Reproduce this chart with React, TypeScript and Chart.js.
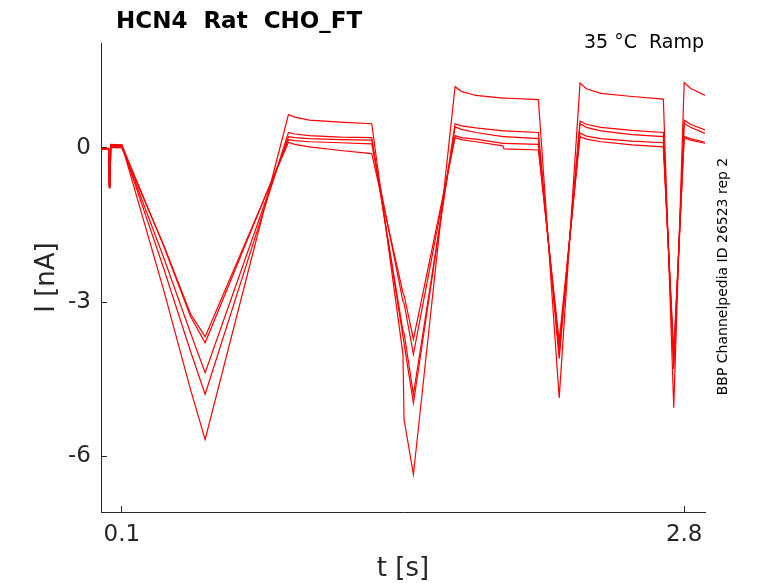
import React, { useRef, useEffect } from "react";
import Chart from "chart.js/auto";

// time knots (s) shared by all sweeps
const timeS = [
  0, 0.037, 0.04, 0.043, 0.047, 0.1, 0.3, 0.43, 0.5, 0.81, 0.9, 0.93, 1.0, 1.15, 1.3,
  1.45, 1.455, 1.5, 1.7, 1.73, 1.8, 1.93, 1.935, 2.1, 2.2, 2.3, 2.33, 2.4, 2.55, 2.7,
  2.75, 2.8, 2.83, 2.9,
];

// current (nA), one array per sweep
const sweep1 = [
  -0.02, -0.02, -0.74, -0.7, 0.06, 0.06, -2.75, -4.7, -5.67, -0.77, 0.65, 0.6, 0.54, 0.5, 0.47,
  -4.02, -5.28, -6.35, 1.19, 1.1, 1.02, 0.97, 0.97, 0.94, -4.86, 1.26, 1.15, 1.06, 1.0, 0.95,
  -5.05, 1.27, 1.16, 1.02,
];
const sweep2 = [
  -0.01, -0.01, -0.76, -0.72, 0.04, 0.05, -2.33, -3.96, -4.79, -0.85, 0.3, 0.27, 0.24, 0.21, 0.2,
  -3.67, -3.8, -4.96, 0.47, 0.43, 0.39, 0.33, 0.33, 0.3, -4.1, 0.52, 0.46, 0.4, 0.34, 0.3,
  -4.3, 0.54, 0.46, 0.35,
];
const sweep3 = [
  -0.03, -0.03, -0.78, -0.74, 0.02, 0.03, -2.12, -3.6, -4.37, -0.81, 0.22, 0.2, 0.18, 0.16, 0.15,
  -3.56, -3.6, -4.79, 0.41, 0.36, 0.3, 0.22, 0.22, 0.18, -4.0, 0.47, 0.4, 0.33, 0.26, 0.22,
  -4.2, 0.48, 0.4, 0.28,
];
const sweep4 = [
  -0.02, -0.02, -0.7, -0.66, 0.07, 0.06, -1.9, -3.28, -3.79, -0.73, 0.16, 0.14, 0.12, 0.1, 0.08,
  -2.99, -3.02, -4.01, 0.24, 0.2, 0.17, 0.09, 0.09, 0.07, -3.9, 0.29, 0.23, 0.18, 0.13, 0.1,
  -4.1, 0.22, 0.18, 0.11,
];
const sweep5 = [
  -0.02, -0.02, -0.72, -0.69, 0.01, 0.0, -1.88, -3.23, -3.67, -0.74, 0.11, 0.07, 0.02, -0.05, -0.11,
  -2.82, -2.86, -3.72, 0.2, 0.16, 0.12, 0.04, -0.02, -0.04, -3.75, 0.22, 0.17, 0.12, 0.06, 0.02,
  -4.0, 0.2, 0.15, 0.09,
];
const sweeps = [sweep1, sweep2, sweep3, sweep4, sweep5];

const xTicks = [0.1, 2.8];
const yTicks = [-6, -3, 0];

const titleText = "HCN4  Rat  CHO_FT";
const conditionText = "35 °C  Ramp";
const sourceText = "BBP Channelpedia ID 26523 rep 2";

const FONT = "'DejaVu Sans', sans-serif";
const AXIS_COLOR = "#262626";

const textPlugin = {
  id: "annotations",
  afterDraw(chart: any) {
    const { ctx, chartArea } = chart;
    ctx.save();
    ctx.fillStyle = "#000";
    ctx.textBaseline = "alphabetic";
    ctx.textAlign = "left";
    ctx.font = `bold 23px ${FONT}`;
    ctx.fillText(titleText, 116, 28);

    ctx.font = `19px ${FONT}`;
    ctx.textAlign = "right";
    ctx.fillText(conditionText, chartArea.right - 1, 48);

    ctx.translate(chartArea.right + 18, (160 + 393) / 2);
    ctx.rotate(-Math.PI / 2);
    ctx.textAlign = "center";
    ctx.textBaseline = "middle";
    ctx.font = `14px ${FONT}`;
    ctx.fillText(sourceText, 0, 0);
    ctx.restore();
  },
};

const App: React.FC = () => {
  const canvasRef = useRef<HTMLCanvasElement | null>(null);
  const chartRef = useRef<Chart | null>(null);

  useEffect(() => {
    if (!canvasRef.current) return;

    chartRef.current = new Chart(canvasRef.current, {
      type: "line",
      data: {
        datasets: sweeps.map((s) => ({
          data: timeS.map((t, i) => ({ x: t, y: s[i] })),
          borderColor: "#ff0000",
          borderWidth: 1.2,
          pointRadius: 0,
          tension: 0,
          fill: false,
        })),
      },
      options: {
        animation: false,
        responsive: true,
        maintainAspectRatio: false,
        layout: { padding: { left: 0, right: 73, top: 43, bottom: 0 } },
        plugins: { legend: { display: false }, tooltip: { enabled: false } },
        scales: {
          x: {
            type: "linear",
            min: 0,
            max: 2.9,
            afterFit: (s: any) => {
              s.height = 71;
            },
            afterBuildTicks: (s: any) => {
              s.ticks = xTicks.map((v) => ({ value: v }));
            },
            ticks: {
              color: AXIS_COLOR,
              font: { family: FONT, size: 23 },
              padding: 15,
              maxRotation: 0,
              autoSkip: false,
              callback: (v: any) => String(v),
            },
            grid: { drawOnChartArea: false, tickLength: -6, color: AXIS_COLOR },
            border: { color: AXIS_COLOR },
            title: {
              display: true,
              text: "t [s]",
              color: AXIS_COLOR,
              font: { family: FONT, size: 26, lineHeight: 1 },
              padding: { bottom: 1, top: 0 },
            },
          },
          y: {
            min: -7.08,
            max: 2.04,
            afterFit: (s: any) => {
              s.width = 101;
            },
            afterBuildTicks: (s: any) => {
              s.ticks = yTicks.map((v) => ({ value: v }));
            },
            ticks: {
              color: AXIS_COLOR,
              font: { family: FONT, size: 23 },
              padding: 16,
              autoSkip: false,
              callback: (v: any) => String(v),
            },
            grid: { drawOnChartArea: false, tickLength: -6, color: AXIS_COLOR },
            border: { color: AXIS_COLOR },
            title: {
              display: true,
              text: "I [nA]",
              color: AXIS_COLOR,
              font: { family: FONT, size: 26, lineHeight: 1 },
              padding: { top: 34, bottom: 0 },
            },
          },
        },
      },
      plugins: [textPlugin],
    });

    return () => chartRef.current?.destroy();
  }, []);

  return (
    <div
      style={{
        position: "fixed",
        left: 0,
        top: 0,
        width: 778,
        height: 583,
        background: "#fff",
      }}
    >
      <canvas ref={canvasRef} />
    </div>
  );
};

export default App;
